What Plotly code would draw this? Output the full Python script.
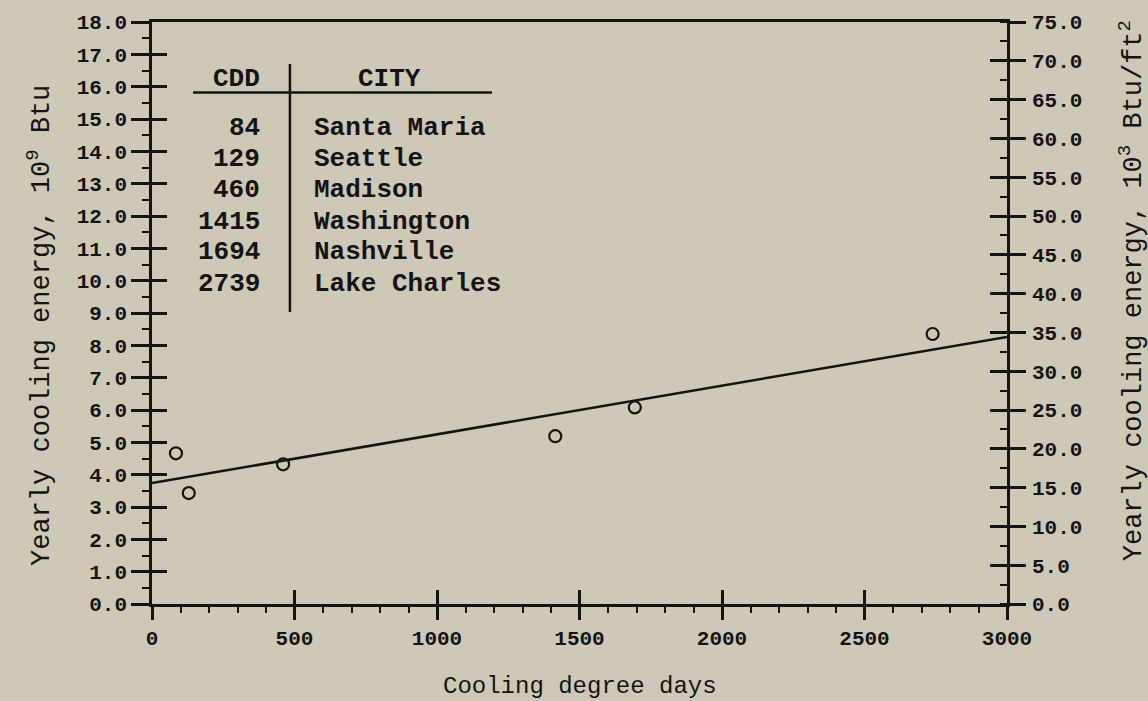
import plotly.graph_objects as go

# Cooling degree days and yearly cooling energy per city
cities = ["Santa Maria", "Seattle", "Madison", "Washington", "Nashville", "Lake Charles"]
cdd = [84, 129, 460, 1415, 1694, 2739]
energy = [4.66, 3.43, 4.32, 5.19, 6.08, 8.35]  # 10^9 Btu

# Fitted straight line, end points
fit_x = [0, 3000]
fit_y = [3.74, 8.26]

x_ticks = [0, 500, 1000, 1500, 2000, 2500, 3000]
left_ticks = list(range(0, 19))
right_ticks = list(range(0, 80, 5))

INK = "#141414"
PAPER = "#CDC9B6"
TICK_FONT = dict(family="Liberation Mono", size=21, color=INK, weight="bold")
SIDE_TITLE_FONT = dict(family="Liberation Mono", size=27, color=INK)
BOTTOM_TITLE_FONT = dict(family="Liberation Mono", size=24, color=INK)
TABLE_FONT = dict(family="Liberation Mono", size=26, color=INK)

fig = go.Figure()

fig.add_trace(go.Scatter(
    x=fit_x, y=fit_y, mode="lines",
    line=dict(color=INK, width=2.5),
    showlegend=False, hoverinfo="skip",
))
fig.add_trace(go.Scatter(
    x=cdd, y=energy, mode="markers",
    marker=dict(symbol="circle-open", size=12, color=INK, line=dict(width=2.2, color=INK)),
    text=cities, showlegend=False,
))
# helper traces so the overlay axes are drawn
fig.add_trace(go.Scatter(x=[None], y=[None], xaxis="x2", yaxis="y3", showlegend=False, hoverinfo="skip"))
fig.add_trace(go.Scatter(x=[None], y=[None], xaxis="x", yaxis="y2", showlegend=False, hoverinfo="skip"))
fig.add_trace(go.Scatter(x=[None], y=[None], xaxis="x", yaxis="y4", showlegend=False, hoverinfo="skip"))

common = dict(showgrid=False, zeroline=False, tickcolor=INK, tickwidth=2.5)

fig.update_layout(
    width=1148, height=701, autosize=False,
    margin=dict(l=152, r=141, t=18, b=97),
    paper_bgcolor=PAPER, plot_bgcolor=PAPER,
    xaxis=dict(
        range=[0, 3000], tickvals=x_ticks, ticktext=[str(v) for v in x_ticks],
        ticks="outside", ticklen=13, showline=True, linecolor=INK, linewidth=2.5,
        mirror=True, tickfont=TICK_FONT, ticklabelstandoff=0,
        minor=dict(dtick=100, ticks="outside", ticklen=6, tickwidth=2, tickcolor=INK),
        **common,
    ),
    xaxis2=dict(
        range=[0, 3000], overlaying="x", matches="x", anchor="y", side="bottom",
        tickvals=x_ticks, ticks="inside", ticklen=14, showticklabels=False,
        showline=False, **common,
    ),
    yaxis=dict(
        range=[0, 18], tickvals=left_ticks, tickformat=".1f",
        ticks="outside", ticklen=18, showline=True, linecolor=INK, linewidth=2.5,
        tickfont=TICK_FONT,
        minor=dict(dtick=0.5, ticks="outside", ticklen=7, tickwidth=2, tickcolor=INK),
        **common,
    ),
    yaxis3=dict(
        range=[0, 18], overlaying="y", anchor="x", side="left",
        tickvals=left_ticks, ticks="inside", ticklen=15, showticklabels=False,
        showline=False, **common,
    ),
    yaxis2=dict(
        range=[0, 75], overlaying="y", anchor="x", side="right",
        tickvals=right_ticks, tickformat=".1f",
        ticks="outside", ticklen=16, showline=True, linecolor=INK, linewidth=2.5,
        tickfont=TICK_FONT, ticklabelstandoff=2,
        minor=dict(dtick=2.5, ticks="inside", ticklen=7, tickwidth=2, tickcolor=INK),
        **common,
    ),
    yaxis4=dict(
        range=[0, 75], overlaying="y", anchor="x", side="right",
        tickvals=right_ticks, ticks="inside", ticklen=17, showticklabels=False,
        showline=False, **common,
    ),
)

# Axis titles
fig.add_annotation(
    text="Yearly cooling energy, 10<sup>9</sup> Btu", textangle=-90,
    xref="paper", yref="paper", x=-0.131, y=0.4795,
    xanchor="center", yanchor="middle",
    showarrow=False, font=SIDE_TITLE_FONT,
)
fig.add_annotation(
    text="Yearly cooling energy, 10<sup>3</sup> Btu/ft<sup>2</sup>", textangle=-90,
    xref="paper", yref="paper", x=1.145, y=0.539,
    xanchor="center", yanchor="middle",
    showarrow=False, font=SIDE_TITLE_FONT,
)
fig.add_annotation(
    text="Cooling degree days",
    xref="paper", yref="paper", x=0.5006, y=-0.1416,
    xanchor="center", yanchor="middle",
    showarrow=False, font=BOTTOM_TITLE_FONT,
)

# City table inset
fig.add_annotation(text="<b>CDD</b>", x=298, y=16.25, xref="x", yref="y",
                   showarrow=False, font=TABLE_FONT)
fig.add_annotation(text="<b>CITY</b>", x=835, y=16.25, xref="x", yref="y",
                   showarrow=False, font=TABLE_FONT)
row_y = [14.72, 13.76, 12.81, 11.83, 10.88, 9.89]
for yv, c, name in zip(row_y, cdd, cities):
    fig.add_annotation(text=f"<b>{c}</b>", x=386, y=yv, xref="x", yref="y",
                       xanchor="right", showarrow=False, font=TABLE_FONT)
    fig.add_annotation(text=f"<b>{name}</b>", x=561, y=yv, xref="x", yref="y",
                       xanchor="left", showarrow=False, font=TABLE_FONT)

fig.add_shape(type="line", x0=144, x1=1193, y0=15.82, y1=15.82, xref="x", yref="y",
              line=dict(color=INK, width=2.5))
fig.add_shape(type="line", x0=484, x1=484, y0=16.70, y1=9.03, xref="x", yref="y",
              line=dict(color=INK, width=2.5))

fig.write_html("out.html")
